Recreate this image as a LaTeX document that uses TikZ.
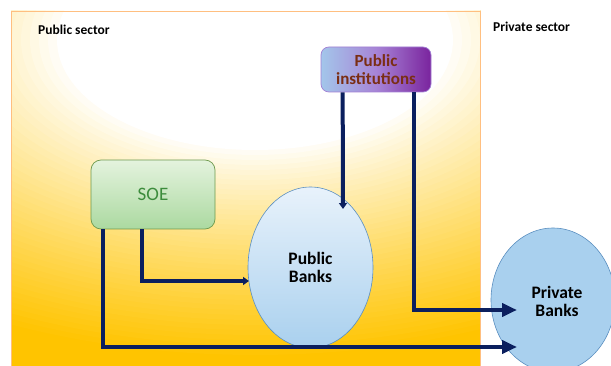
\documentclass[tikz,border=0pt]{standalone}
\usepackage{fontspec}
\setmainfont{Carlito}
\usetikzlibrary{arrows.meta,calc,shapes.geometric}
\definecolor{navy}{HTML}{0B1F5E}
\definecolor{gold}{HTML}{FFC400}
\definecolor{bankfill}{HTML}{A9D0EE}
\definecolor{banktop}{HTML}{E8F2FB}
\definecolor{bankline}{HTML}{5B8FC0}
\definecolor{soetop}{HTML}{E4F3DE}
\definecolor{soebot}{HTML}{ABD9A0}
\definecolor{soeline}{HTML}{6E9A4E}
\definecolor{soetext}{HTML}{3C8C3C}
\definecolor{instleft}{HTML}{A3C6EA}
\definecolor{instmid}{HTML}{A784D6}
\definecolor{instright}{HTML}{7A249E}
\definecolor{instline}{HTML}{A27FD4}
\definecolor{insttext}{HTML}{7A2E14}
\tikzset{
  lbl/.style={font=\bfseries\fontsize{13.5}{15}\selectfont, anchor=west, inner sep=0pt},
  arrline/.style={draw=navy, line width=4pt, line join=miter},
  bigtip/.style={arrline, -{Triangle[length=15pt,width=13pt]}},
  smalltip/.style={arrline, -{Triangle[length=6pt,width=8pt]}},
  bank/.style={ellipse, draw=bankline, line width=0.6pt, inner sep=0pt, align=center,
     font=\bfseries\fontsize{17.5}{18}\selectfont},
}
\begin{document}
\begin{tikzpicture}[x=1pt,y=-1pt]
\useasboundingbox (0,0) rectangle (611,366);
% public sector background
\begin{scope}
  \clip (11,11) rectangle (480,370);
  \fill[gold] (11,11) rectangle (480,370);
  \foreach \i in {0,...,63} {
    \pgfmathsetmacro{\r}{330-\i*5}
    \pgfmathsetmacro{\q}{max(0.0001,min(1,(\r-110)/210))}
    \pgfmathsetmacro{\p}{100*(\q^0.85)}
    \fill[gold!\p!white] (255,40) ellipse [x radius=1.8*\r, y radius=\r];
  }
\end{scope}
\draw[color=orange!50, line width=0.8pt] (11,370) -- (11,11) -- (480,11) -- (480,370);
\node[lbl] (pubsec) at (38,30) {Public sector};
\node[lbl] (privsec) at (493,27) {Private sector};
% nodes
\node[draw=instline, line width=0.7pt, rounded corners=8pt, minimum width=110pt, minimum height=45pt,
  left color=instleft, right color=instright, middle color=instmid,
  align=center, text=insttext, inner sep=0pt,
  font=\bfseries\fontsize{17}{18}\selectfont] (inst) at (376,69.5) {Public\\institutions};
\node[draw=soeline, line width=0.7pt, rounded corners=10pt, minimum width=124pt, minimum height=69pt,
  top color=soetop, bottom color=soebot, inner sep=0pt,
  text=soetext, font=\fontsize{19}{20}\selectfont] (soe) at (153,194.5) {SOE};
\node[bank, minimum width=125pt, minimum height=161pt, top color=banktop, bottom color=bankfill] (pub) at (310.5,267.5) {Public\\Banks};
\node[bank, minimum width=124pt, minimum height=144pt, fill=bankfill] (priv) at (553,300) {};
\node[font=\bfseries\fontsize{17.5}{18}\selectfont, align=center, inner sep=0pt] (privtxt) at (557,301) {Private\\Banks};
% arrow ends
\coordinate (t1) at (343,209);
\coordinate (t2) at (517,310);
\coordinate (t3) at (249,281);
\coordinate (t4) at (517,347);
\draw[smalltip] ([xshift=22pt]inst.south west) -- (t1);
\draw[bigtip] ([xshift=93pt]inst.south west) |- (t2);
\draw[smalltip] ([xshift=51pt]soe.south west) |- (t3);
\draw[bigtip] ([xshift=12pt]soe.south west) |- (t4);
\end{tikzpicture}
\end{document}
